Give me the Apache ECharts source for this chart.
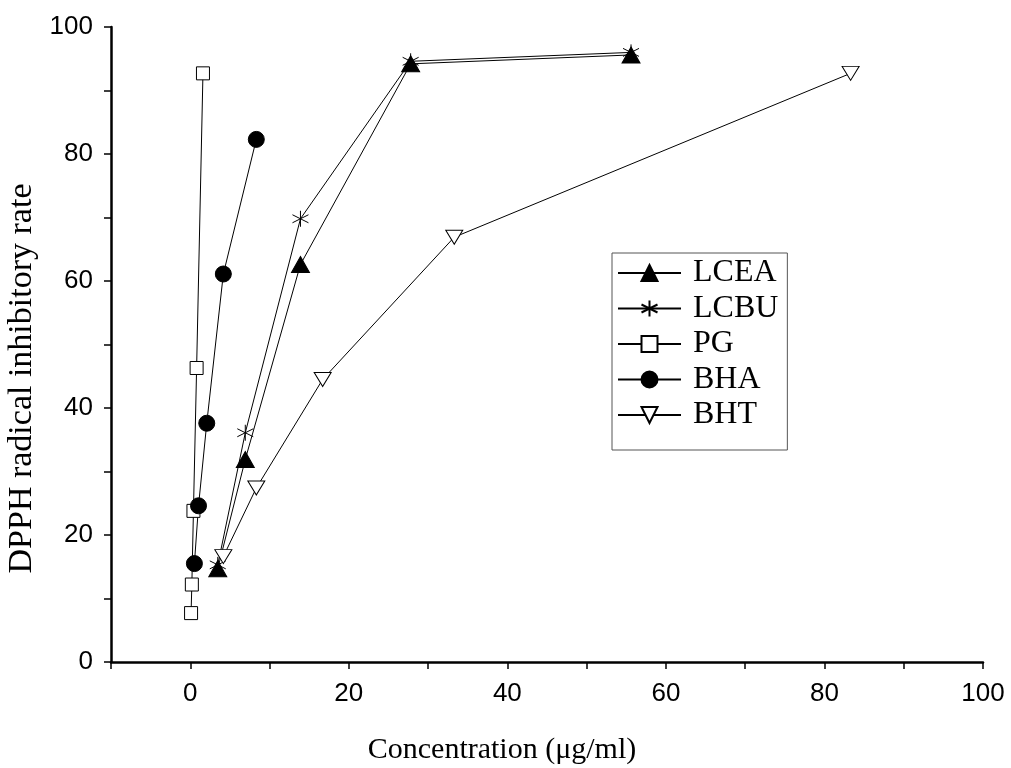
<!DOCTYPE html>
<html>
<head>
<meta charset="utf-8">
<script src="https://cdn.jsdelivr.net/npm/echarts@6/dist/echarts.min.js"></script>
<style>
  html, body { margin: 0; padding: 0; background: #fff; }
  #chart { width: 1011px; height: 768px; }
</style>
</head>
<body>
<div id="chart"></div>
<script>
// DPPH radical inhibitory rate vs concentration

const chart = echarts.init(document.getElementById('chart'))

const seriesNames = ['LCEA', 'LCBU', 'PG', 'BHA', 'BHT']

// concentration (μg/ml)
const lceaX = [3.47, 6.94, 13.9, 27.8, 55.6]
const lcbuX = [3.47, 6.94, 13.9, 27.8, 55.6]
const pgX = [0.1, 0.2, 0.4, 0.8, 1.6]
const bhaX = [0.52, 1.04, 2.08, 4.17, 8.33]
const bhtX = [4.17, 8.33, 16.7, 33.3, 83.3]

// inhibitory rate
const lceaY = [14.7, 31.9, 62.6, 94.2, 95.6]
const lcbuY = [15.3, 36.1, 69.8, 94.6, 96.0]
const pgY = [7.7, 12.2, 23.8, 46.3, 92.7]
const bhaY = [15.5, 24.6, 37.6, 61.1, 82.3]
const bhtY = [16.6, 27.4, 44.5, 66.9, 92.7]

const xTickLabels = [0, 20, 40, 60, 80, 100]
const yTickLabels = [0, 20, 40, 60, 80, 100]

const pairs = (xs, ys) => xs.map((x, i) => [x, ys[i]])

const sans = "'Liberation Sans', Arial, sans-serif"
const serif = "'Liberation Serif', 'Times New Roman', serif"

// asterisk: vertical + two diagonals
const starPath = 'path://M8,0 L8,16 M1.1,4 L14.9,12 M1.1,12 L14.9,4'
const downTriangle = 'path://M0,0 L16,0 L8,13.9 Z'

function makeSeries (name, data, symbol, size, fill) {
  return {
    name: name,
    type: 'line',
    data: data,
    symbol: symbol,
    symbolSize: size,
    showAllSymbol: true,
    lineStyle: { color: '#000', width: 1 },
    itemStyle: { color: fill, borderColor: '#000', borderWidth: 1 },
    emphasis: { disabled: true },
    animation: false
  }
}

const option = {
  backgroundColor: '#fff',
  grid: {
    left: 111,
    right: 28,
    top: 27,
    bottom: 106,
    outerBoundsMode: 'none'
  },
  legend: {
    orient: 'vertical',
    left: 612,
    top: 253,
    data: seriesNames,
    itemWidth: 63,
    itemHeight: 20,
    itemGap: 3.5,
    padding: [4, 9, 19, 5],
    borderColor: '#555',
    borderWidth: 1,
    selectedMode: false,
    textStyle: {
      fontFamily: serif,
      fontSize: 32,
      color: '#000',
      padding: [0, 0, 0, 7]
    }
  },
  xAxis: {
    type: 'value',
    min: -10,
    max: 100,
    interval: 10,
    name: 'Concentration (μg/ml)',
    nameLocation: 'middle',
    nameGap: 73,
    nameTextStyle: {
      fontFamily: serif,
      fontSize: 30,
      color: '#000',
      padding: [0, 90, 0, 0]
    },
    axisLine: { onZero: false, lineStyle: { color: '#000', width: 2.5 } },
    axisTick: { show: true, length: 7, lineStyle: { color: '#000', width: 1.5 } },
    axisLabel: {
      margin: 19,
      fontFamily: sans,
      fontSize: 26,
      color: '#000',
      formatter: v => (xTickLabels.includes(v) ? String(v) : '')
    },
    splitLine: { show: false }
  },
  yAxis: {
    type: 'value',
    min: 0,
    max: 100,
    interval: 10,
    name: 'DPPH radical inhibitory rate',
    nameLocation: 'middle',
    nameGap: 70,
    nameTextStyle: {
      fontFamily: serif,
      fontSize: 34,
      color: '#000',
      padding: [0, 68, 0, 0]
    },
    axisLine: { show: true, onZero: false, lineStyle: { color: '#000', width: 2.5 } },
    axisTick: { show: true, length: 7, lineStyle: { color: '#000', width: 1.5 } },
    axisLabel: {
      margin: 18,
      fontFamily: sans,
      fontSize: 26,
      color: '#000',
      formatter: v => (yTickLabels.includes(v) ? String(v) : '')
    },
    splitLine: { show: false }
  },
  series: [
    makeSeries('LCEA', pairs(lceaX, lceaY), 'triangle', [18, 16], '#000'),
    makeSeries('LCBU', pairs(lcbuX, lcbuY), starPath, [16, 16], 'none'),
    makeSeries('PG', pairs(pgX, pgY), 'rect', 13, '#fff'),
    makeSeries('BHA', pairs(bhaX, bhaY), 'circle', 16, '#000'),
    makeSeries('BHT', pairs(bhtX, bhtY), downTriangle, [17, 14], '#fff')
  ]
}

chart.setOption(option)
</script>
</body>
</html>
